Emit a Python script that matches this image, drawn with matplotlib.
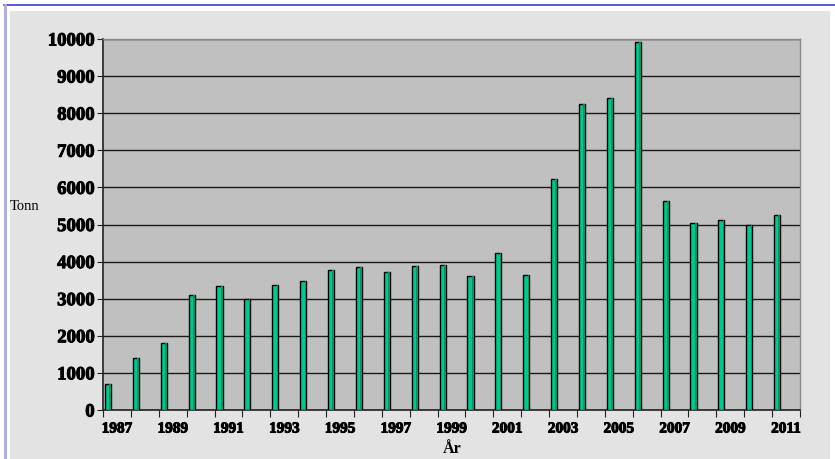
import matplotlib
matplotlib.use("Agg")
import matplotlib.pyplot as plt
from matplotlib.lines import Line2D
from matplotlib.patches import Rectangle
import matplotlib.patheffects as pe
import numpy as np

years = list(range(1987, 2012))
values = [690, 1390, 1800, 3100, 3350, 2990, 3380, 3470, 3770, 3850,
          3720, 3880, 3900, 3610, 4240, 3640, 6220, 8260, 8400, 9930,
          5620, 5040, 5120, 5000, 5250]
yticks = list(range(0, 10001, 1000))
xlabel_years = [str(y) for y in years if (y - 1987) % 2 == 0]

W, H = 835, 460
fig = plt.figure(figsize=(W / 100, H / 100), dpi=100)
fig.patch.set_facecolor("white")

# background panel
bg = Rectangle((10 / W, 0), (830 - 10) / W, (460 - 12) / H,
               transform=fig.transFigure, facecolor="#e3e3e3",
               edgecolor="none", zorder=-10)
fig.add_artist(bg)
# blue frame lines
fig.add_artist(Line2D([4 / W, 1], [1 - 6 / H, 1 - 6 / H], transform=fig.transFigure,
                      color="#3a3ae0", lw=1.2, zorder=-5))
fig.add_artist(Line2D([4.5 / W, 4.5 / W], [0, 1 - 6 / H], transform=fig.transFigure,
                      color="#a8a8ec", lw=2, zorder=-5))

ax = fig.add_axes([103 / W, (460 - 411) / H, (800 - 103) / W, (411 - 40) / H])
ax.set_zorder(5)
ax.set_facecolor("#c0c0c0")

n = len(years)
idx = np.arange(n)
bar_w = 0.22
ax.bar(idx + 0.07, values, width=bar_w, align="edge", color="#00c890",
       edgecolor="black", linewidth=1.0, zorder=3)
# darker side face for a 3D look
ax.bar(idx + 0.07 + bar_w * 0.72, values, width=bar_w * 0.28, align="edge",
       color="#009468", edgecolor="none", zorder=4)

ax.set_xlim(0, n)
ax.set_ylim(0, 10000)
heavy = [pe.withStroke(linewidth=0.7, foreground="black")]
ax.set_yticks(yticks)
ax.set_yticklabels([str(v) for v in yticks], fontfamily="Liberation Serif",
                   fontweight="bold", fontsize=13.5, path_effects=heavy)
ax.yaxis.grid(True, color="#1a1a1a", linewidth=1.0, zorder=1)
ax.set_axisbelow(True)

ax.set_xticks(np.arange(0, n + 1))
ax.set_xticklabels([])
label_pos = [i + 0.5 for i in range(0, n, 2)]
ax.set_xticks(label_pos, minor=True)
ax.set_xticklabels(xlabel_years, minor=True, fontfamily="Liberation Serif",
                   fontweight="bold", fontsize=11, path_effects=heavy)
ax.tick_params(axis="x", which="minor", length=0, pad=9)
ax.tick_params(axis="x", which="major", length=5, color="#222222", direction="out")
ax.tick_params(axis="y", length=4, color="#222222", direction="out", pad=2)

for s in ["top", "right"]:
    ax.spines[s].set_color("#888888")
    ax.spines[s].set_linewidth(1.0)
for s in ["left", "bottom"]:
    ax.spines[s].set_color("#222222")
    ax.spines[s].set_linewidth(1.2)

fig.text(452 / W, 1 - 449 / H, "År", ha="center", va="center",
         fontfamily="Liberation Serif", fontweight="bold", fontsize=11.5)
fig.text(10 / W, 1 - 207 / H, "Tonn", ha="left", va="center",
         fontfamily="Liberation Serif", fontsize=10.5)

fig.savefig("out.png", dpi=100, facecolor=fig.get_facecolor())
